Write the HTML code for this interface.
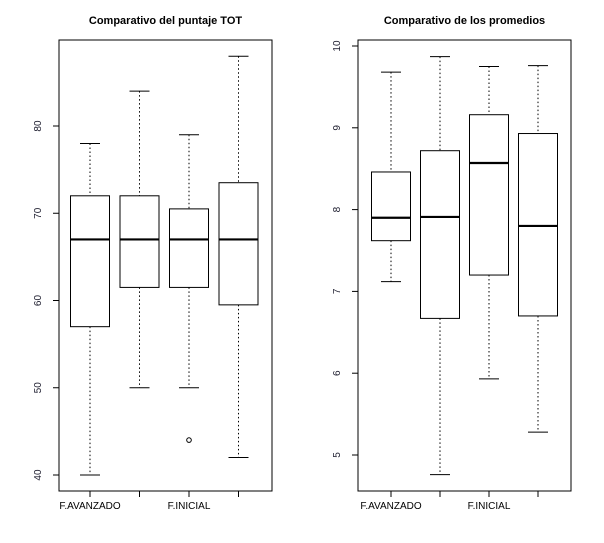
<!DOCTYPE html>
<html><head><meta charset="utf-8"><style>
body{margin:0;background:#fff;}
svg{display:block;font-family:"Liberation Sans",sans-serif;}
</style></head><body>
<svg id="c" width="604" height="543" viewBox="0 0 604 543"></svg>
<script>
const categories=["F.AVANZADO","","F.INICIAL",""];
const totLow=[40,50,50,42], totQ1=[57,61.5,61.5,59.5], totMed=[67,67,67,67], totQ3=[72,72,70.5,73.5], totHigh=[78,84,79,88];
const totOutliers=[[],[],[44],[]];
const totTicks=[40,50,60,70,80];
const promLow=[7.12,4.76,5.93,5.28], promQ1=[7.62,6.67,7.2,6.7], promMed=[7.9,7.91,8.57,7.8], promQ3=[8.46,8.72,9.16,8.93], promHigh=[9.68,9.87,9.75,9.76];
const promOutliers=[[],[],[],[]];
const promTicks=[5,6,7,8,9,10];
const svg=document.getElementById('c');
const NS='http://www.w3.org/2000/svg';
function mk(t,a,p){const e=document.createElementNS(NS,t);for(const k in a)e.setAttribute(k,a[k]);(p||svg).appendChild(e);return e;}
function panel(o){
  const g=mk('g',{});
  
  
  const y=v=>o.y0+(v-o.v0)*(o.y1-o.y0)/(o.v1-o.v0);
  const xs=i=>o.cx0+i*o.step;
  const t=mk('text',{x:(o.left+o.right)/2,y:24,'text-anchor':'middle','font-size':11,'font-weight':'bold'},g);t.textContent=o.title;
  
  
  const f=mk('rect',{x:o.left,y:40,width:o.right-o.left,height:451,fill:'none',stroke:'#000','stroke-width':1},g);
  
  
  o.ticks.forEach(v=>{
    mk('line',{x1:o.left-6,x2:o.left,y1:y(v),y2:y(v),stroke:'#000'},g);
    const tx=o.left-18;
    const l=mk('text',{x:tx,y:y(v),'font-size':10,fill:'#223','text-anchor':'middle',transform:`rotate(-90 ${tx} ${y(v)})`},g);
    l.textContent=v;
    
    
  });
  o.cats.forEach((c,i)=>{
    const x=xs(i);
    mk('line',{x1:x,x2:x,y1:491,y2:497,stroke:'#000'},g);
    if(c){const l=mk('text',{x:x,y:509,'font-size':10,'text-anchor':'middle'},g);l.textContent=c;
      
      }
    const bg=mk('g',{},g);
    
    
    const hw=19.5;
    mk('line',{x1:x,x2:x,y1:y(o.high[i]),y2:y(o.q3[i]),stroke:'#000','stroke-dasharray':'1.5,2.5'},bg);
    mk('line',{x1:x,x2:x,y1:y(o.q1[i]),y2:y(o.low[i]),stroke:'#000','stroke-dasharray':'1.5,2.5'},bg);
    mk('line',{x1:x-10,x2:x+10,y1:y(o.high[i]),y2:y(o.high[i]),stroke:'#000'},bg);
    mk('line',{x1:x-10,x2:x+10,y1:y(o.low[i]),y2:y(o.low[i]),stroke:'#000'},bg);
    mk('rect',{x:x-hw,y:y(o.q3[i]),width:2*hw,height:y(o.q1[i])-y(o.q3[i]),fill:'#fff',stroke:'#000'},bg);
    mk('line',{x1:x-hw,x2:x+hw,y1:y(o.med[i]),y2:y(o.med[i]),stroke:'#000','stroke-width':2.2},bg);
    o.out[i].forEach(v=>{const c=mk('circle',{cx:x,cy:y(v),r:2.3,fill:'none',stroke:'#000'},bg);
      
      });
  });
}
panel({name:'puntaje-tot-panel',title:'Comparativo del puntaje TOT',left:59,right:272,v0:40,y0:475,v1:80,y1:126,cx0:90,step:49.5,
  ticks:totTicks,cats:categories,low:totLow,q1:totQ1,med:totMed,q3:totQ3,high:totHigh,out:totOutliers});
panel({name:'promedios-panel',title:'Comparativo de los promedios',left:358,right:571,v0:5,y0:455,v1:10,y1:46,cx0:391,step:49,
  ticks:promTicks,cats:categories,low:promLow,q1:promQ1,med:promMed,q3:promQ3,high:promHigh,out:promOutliers});
</script>
</body></html>
